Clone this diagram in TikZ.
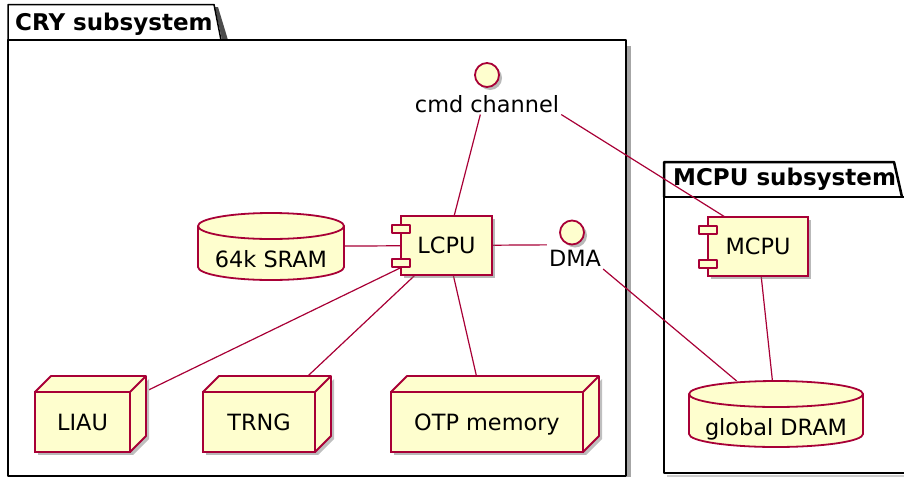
\documentclass[tikz,border=0pt]{standalone}
\usepackage{fontspec}
\setmainfont{DejaVu Sans}
\usetikzlibrary{positioning,calc,shapes.geometric,fit,backgrounds,shadows}

\definecolor{umlred}{HTML}{A80036}
\definecolor{umlfill}{HTML}{FEFECE}

\tikzset{
  umlfont/.style={font=\fontsize{22.4}{26}\selectfont},
  elem/.style={draw=umlred,fill=umlfill,line width=1.8pt,umlfont,
    inner sep=2pt,outer sep=0pt,text depth=0pt},
  umlshadow/.style={drop shadow={shadow xshift=3pt,shadow yshift=-3pt,
      fill=black!55,opacity=.5}},
  comp/.style={elem,umlshadow,minimum height=59pt},
  port/.style={draw=umlred,fill=umlfill,line width=1.8pt,line join=round},
  box/.style={elem,umlshadow,minimum height=60pt},
  db/.style={elem,draw=none,fill=none,minimum height=67pt,text height=42pt},
  iface/.style={elem,umlshadow,circle,minimum size=24pt,inner sep=0pt},
  iftext/.style={umlfont,inner sep=2pt,outer sep=0pt},
  conn/.style={draw=umlred,line width=1.2pt},
  pkg/.style={draw=black,line width=1.5pt,line join=round},
  pkgtitle/.style={font=\fontsize{23}{27}\selectfont\bfseries,
    inner sep=0pt,anchor=base west}
}

\begin{document}
\begin{tikzpicture}[x=1pt,y=-1pt]
  \useasboundingbox (0,0) rectangle (904,477);

  % package titles
  \node (crytitle) [pkgtitle] at (15,30) {CRY subsystem};
  \node (mcputitle) [pkgtitle] at (673,185) {MCPU subsystem};

  % interfaces
  \node (cmdo) [iface] at (487,75) {};
  \node (cmdl) [iftext,below=6pt of cmdo] {cmd channel};
  \node (cmd) [fit=(cmdo)(cmdl),inner sep=0pt] {};
  \node (dmao) [iface] at (572,232.5) {};
  \node (dmal) [iftext,below=4pt of dmao,xshift=3pt] {DMA};
  \node (dma) [fit=(dmao)(dmal),inner sep=0pt] {};

  % components and storage
  \node (lcpu) [comp,minimum width=91pt] at (446.5,245.5) {LCPU};
  \node (mcpu) [comp,minimum width=100pt] at (758,246.5) {MCPU};
  \node (sram) [db,minimum width=146pt] at (271,246.5) {64k SRAM};
  \node (dram) [db,minimum width=174pt,minimum height=66pt] at (776,414) {global DRAM};
  \foreach \n in {lcpu,mcpu}
    \filldraw[port] ([shift={(-9,9)}]\n.north west) rectangle ++(18,8)
      ([shift={(-9,-16)}]\n.south west) rectangle ++(18,8);

  % hardware blocks
  \node (liau) [box,minimum width=95pt] at (82.5,422) {LIAU};
  \node (trng) [box,minimum width=112pt] at (259,422) {TRNG};
  \node (otp) [box,minimum width=192pt] at (487,422) {OTP memory};
  \foreach \n in {liau,trng,otp}{
    \fill[black!25] ([shift={(3,3)}]\n.north east) -- ++(16,-16)
      -- ([shift={(19,-13)}]\n.south east) -- ([shift={(3,3)}]\n.south east) -- cycle;
    \filldraw[port] (\n.north west) -- ++(16,-16) -| ([shift={(16,-16)}]\n.south east)
      -- (\n.south east) -- (\n.north east) -- cycle
      (\n.north east) -- ++(16,-16);
  }

  \begin{scope}[on background layer]
    % CRY subsystem frame
    \fill[black!35] (627,46) rectangle (631,477);
    \fill[black!70] (215,7) -- (218,7) -- (228,40) -- (222,40) -- cycle;
    \draw[pkg] (8,40) -- (8,4.5) -- (214,4.5) -- (221,40);
    \draw[pkg] (8,40) rectangle (626,476);
    % MCPU subsystem frame
    \draw[pkg,line width=2.5pt] (664,197) -- (664,162) -- (894,162) -- (902,197);
    \draw[pkg,line width=2.5pt] (664,197) rectangle (915,473);
    \fill[black!20] (667,474.5) rectangle (904,477);

    % database drums
    \foreach \d in {sram,dram}
      \filldraw[port] let \p1=(\d.north west), \p2=(\d.south east),
          \n1={(\x2-\x1)/2} in
        ([yshift=-13pt]\d.north west) -- ([yshift=13pt]\d.south west)
        arc[start angle=180,end angle=360,x radius=\n1,y radius=13pt]
        -- ([yshift=-13pt]\d.north east)
        arc[start angle=0,end angle=180,x radius=\n1,y radius=13pt] -- cycle
        ([yshift=-13pt]\d.north west)
        arc[start angle=180,end angle=360,x radius=\n1,y radius=13pt];

    % links
    \draw[conn] (cmd) -- (lcpu);
    \draw[conn] (cmd.south east) -- ([xshift=-33pt]mcpu.north);
    \draw[conn] (sram) -- (lcpu);
    \draw[conn] (lcpu) -- (dma);
    \draw[conn] (lcpu) -- (liau);
    \draw[conn] (lcpu) -- (trng);
    \draw[conn] (lcpu) -- (otp);
    \draw[conn] (dma.south east) -- (dram);
    \draw[conn] (mcpu) -- (dram);
  \end{scope}
\end{tikzpicture}
\end{document}
